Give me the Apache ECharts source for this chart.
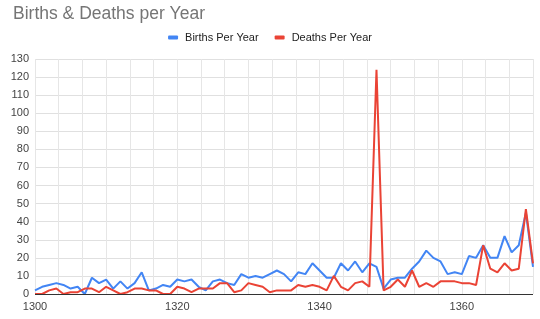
<!DOCTYPE html>
<html>
<head>
<meta charset="utf-8">
<script src="https://cdn.jsdelivr.net/npm/echarts@6/dist/echarts.min.js"></script>
<style>
html,body{margin:0;padding:0;background:#fff;}
#c{width:540px;height:319px;}
</style>
</head>
<body>
<div id="c"></div>
<script>
const years = [];
for (let y = 1300; y <= 1370; y++) years.push(y);
const births = [2,4,5,6,5,3,4,0,9,6,8,3,7,3,6,12,2,3,5,4,
  8,7,8,4,2,7,8,6,5,11,9,10,9,11,13,11,7,12,11,17,
  13,9,9,17,13,18,12,17,15,3,8,9,9,14,18,24,20,18,11,12,
  11,21,20,27,20,20,32,23,27,45,15];
const deaths = [0,0,2,3,0,1,1,3,3,1,4,2,0,1,3,3,2,2,0,0,
  4,3,1,3,3,3,6,6,1,2,6,5,4,1,2,2,2,5,4,5,
  4,2,10,4,2,6,7,4,124,2,4,8,4,13,4,6,4,7,7,7,
  6,6,5,27,14,12,17,13,14,47,17];
const xLabels = [1300, 1320, 1340, 1360];
const seriesNames = ['Births Per Year', 'Deaths Per Year'];

const chart = echarts.init(document.getElementById('c'), null, {renderer: 'canvas'});
const font = 'Arial, "Liberation Sans", sans-serif';
chart.setOption({
  animation: false,
  color: ['#4285f4', '#ea4335'],
  title: {
    text: 'Births & Deaths per Year',
    left: 8, top: 0,
    textStyle: {fontFamily: font, fontSize: 17.5, fontWeight: 'normal', color: '#757575'}
  },
  legend: {
    data: seriesNames,
    top: 27, left: 'center',
    icon: 'roundRect', itemWidth: 10, itemHeight: 4, itemGap: 16,
    textStyle: {fontFamily: font, fontSize: 11, color: '#222', padding: [0,0,0,2]}
  },
  grid: {left: 35, right: 7, top: 59, bottom: 25},
  xAxis: {
    type: 'value', min: 1300, max: 1370, interval: 10/3,
    axisLine: {show: false},
    axisTick: {show: false},
    splitLine: {show: true, lineStyle: {color: '#e6e6e6', width: 1}},
    axisLabel: {
      fontFamily: font, fontSize: 11, color: '#444', margin: 7,
      showMaxLabel: false,
      formatter: function (v) {
        const r = Math.round(v);
        if (Math.abs(v - r) < 0.01 && xLabels.indexOf(r) >= 0) return String(r);
        return '';
      }
    }
  },
  yAxis: {
    type: 'value', min: 0, max: 130, interval: 10,
    axisLine: {show: false},
    axisTick: {show: false},
    splitLine: {show: true, lineStyle: {color: '#e0e0e0', width: 1}},
    axisLabel: {fontFamily: font, fontSize: 11, color: '#444', margin: 6}
  },
  series: [
    {
      name: seriesNames[0], type: 'line', showSymbol: false, symbol: 'none',
      data: years.map((y, i) => [y, births[i]]),
      lineStyle: {width: 2}, z: 3
    },
    {
      name: seriesNames[1], type: 'line', showSymbol: false, symbol: 'none',
      data: years.map((y, i) => [y, deaths[i]]),
      lineStyle: {width: 2}, z: 4,
      markLine: {
        silent: true, symbol: 'none', label: {show: false},
        lineStyle: {color: '#333', width: 1, type: 'solid'},
        data: [{yAxis: 0}]
      }
    }
  ]
});
</script>
</body>
</html>
